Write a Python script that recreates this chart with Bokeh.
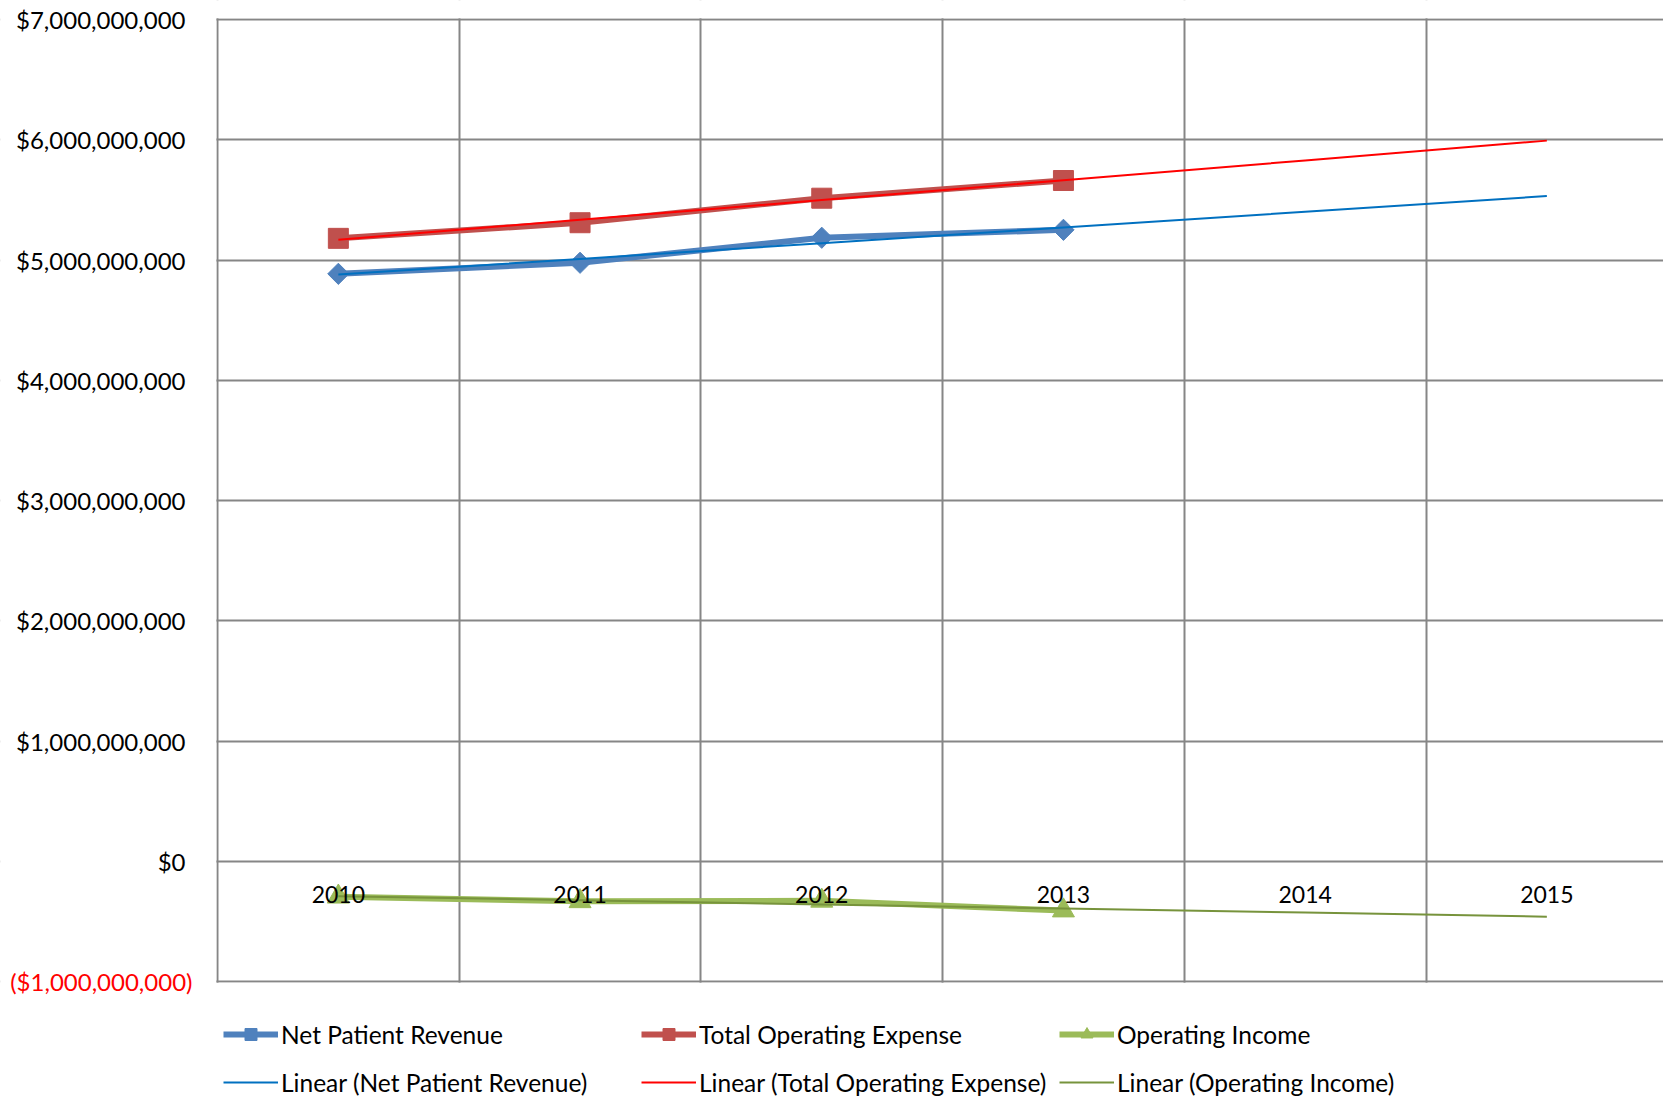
import numpy as np
from math import pi
from bokeh.plotting import figure
from bokeh.models import (Range1d, FixedTicker, Legend, LegendItem, LinearAxis,
                          BoxAnnotation)
from bokeh.embed import file_html
from bokeh.resources import INLINE

# ---- data ----
years = ["2010", "2011", "2012", "2013"]
all_years = ["2010", "2011", "2012", "2013", "2014", "2015"]
net_patient_revenue = [4.885e9, 4.977e9, 5.185e9, 5.251e9]
total_operating_expense = [5.18e9, 5.31e9, 5.514e9, 5.661e9]
operating_income = [-0.295e9, -0.333e9, -0.329e9, -0.41e9]
y_ticks = [0, 1e9, 2e9, 3e9, 4e9, 5e9, 6e9, 7e9]
y_tick_labels = ["$0", "$1,000,000,000", "$2,000,000,000", "$3,000,000,000",
                 "$4,000,000,000", "$5,000,000,000", "$6,000,000,000", "$7,000,000,000"]
neg_tick = -1e9
neg_tick_label = "($1,000,000,000)"

FONT = "Lato"
W, H = 1663, 1100
# plot area placement (pixels)
area_left, area_top, area_bottom = 217, 19, 981
band_px = 241.7                                  # width of one year band
y_min, y_max = neg_tick, y_ticks[-1]
px_per_unit = (area_bottom - area_top) / (y_max - y_min)

x_start = -area_left / band_px
x_end = (W - area_left) / band_px
y_top = y_max + area_top / px_per_unit
y_bot = y_min - (H - area_bottom) / px_per_unit

x_pos = [i + 0.5 for i in range(len(years))]
x_all = [i + 0.5 for i in range(len(all_years))]

p = figure(width=W, height=H, output_backend="svg", toolbar_location=None,
           x_range=Range1d(x_start, x_end), y_range=Range1d(y_bot, y_top),
           x_axis_location=None, y_axis_location=None,
           min_border_left=0, min_border_right=0, min_border_top=0,
           min_border_bottom=0,
           background_fill_color="white", border_fill_color="white")
p.outline_line_color = None

# grids (x = 0 is the value-axis line)
p.xgrid.ticker = FixedTicker(ticks=[0, 1, 2, 3, 4, 5])
p.ygrid.ticker = FixedTicker(ticks=[neg_tick] + y_ticks)
for g in (p.xgrid, p.ygrid):
    g.grid_line_color = "#868686"
    g.grid_line_width = 2

# white masks outside the plot area (extend well past the canvas edges)
edge_x = 1.2 / band_px
edge_y = 1.2 / px_per_unit
far_l, far_r = x_start - 5, x_end + 5
far_t, far_b = y_top + 5e9, y_bot - 5e9
masks = [
    dict(left=far_l, right=-edge_x, top=far_t, bottom=far_b),
    dict(left=far_l, right=far_r, top=far_t, bottom=y_max + edge_y),
    dict(left=far_l, right=far_r, top=y_min - edge_y, bottom=far_b),
]
for kw in masks:
    p.add_layout(BoxAnnotation(level="underlay", fill_color="white", fill_alpha=1,
                               line_color="white", line_width=0, **kw))

# value axis (labels to the left of x = 0)
ya = LinearAxis(fixed_location=0, ticker=FixedTicker(ticks=y_ticks),
                major_label_overrides={t: l for t, l in zip(y_ticks, y_tick_labels)},
                axis_line_color=None, major_tick_line_color=None,
                minor_tick_line_color=None, major_tick_out=0, major_tick_in=0,
                major_label_standoff=32, major_label_text_font=FONT,
                major_label_text_font_size="24px", major_label_text_color="black")
p.add_layout(ya, "left")
neg_axis = LinearAxis(fixed_location=0, ticker=FixedTicker(ticks=[neg_tick]),
                      major_label_overrides={neg_tick: neg_tick_label},
                      axis_line_color=None, major_tick_line_color=None,
                      minor_tick_line_color=None, major_tick_out=0, major_tick_in=0,
                      major_label_standoff=25, major_label_text_font=FONT,
                      major_label_text_font_size="24px",
                      major_label_text_color="#FF0000")
p.add_layout(neg_axis, "left")

# category axis at y = 0
xa = LinearAxis(fixed_location=0, ticker=FixedTicker(ticks=x_all),
                major_label_overrides={x: y for x, y in zip(x_all, all_years)},
                axis_line_color=None, major_tick_line_color=None,
                minor_tick_line_color=None, major_tick_out=0, major_tick_in=0,
                major_label_standoff=25, major_label_text_font=FONT,
                major_label_text_font_size="23px", major_label_text_color="black")
p.add_layout(xa, "below")

# series
series = [
    ("Net Patient Revenue", net_patient_revenue, "#4F81BD", "square", 15, pi / 4, "#0070C0"),
    ("Total Operating Expense", total_operating_expense, "#C0504D", "square", 20, 0, "#FF0000"),
    ("Operating Income", operating_income, "#9BBB59", "triangle", 22, 0, "#77933C"),
]
main_items, trend_items = [], []
for name, vals, col, marker, size, ang, tcol in series:
    lr = p.line(x_pos, vals, line_color=col, line_width=6, line_join="round")
    sr = p.scatter(x_pos, vals, marker=marker, size=size, angle=ang,
                   fill_color=col, line_color=col)
    main_items.append(LegendItem(label=name, renderers=[lr, sr]))
for name, vals, col, marker, size, ang, tcol in series:
    slope, intercept = np.polyfit(np.arange(1, len(vals) + 1), vals, 1)
    tx = np.arange(1, len(all_years) + 1)
    ty = slope * tx + intercept
    tr = p.line(x_all, list(ty), line_color=tcol, line_width=2)
    trend_items.append(LegendItem(label=f"Linear ({name})", renderers=[tr]))

legend = Legend(items=main_items + trend_items, orientation="horizontal", ncols=3,
                location=(223, 0), margin=0, padding=0, spacing=12,
                glyph_width=55, glyph_height=30, label_height=36, label_width=348,
                label_standoff=3, label_text_font=FONT, label_text_font_size="24.5px",
                label_text_color="black", border_line_color=None,
                background_fill_alpha=0)
p.add_layout(legend, "center")

open("out.html", "w").write(file_html(p, INLINE))
